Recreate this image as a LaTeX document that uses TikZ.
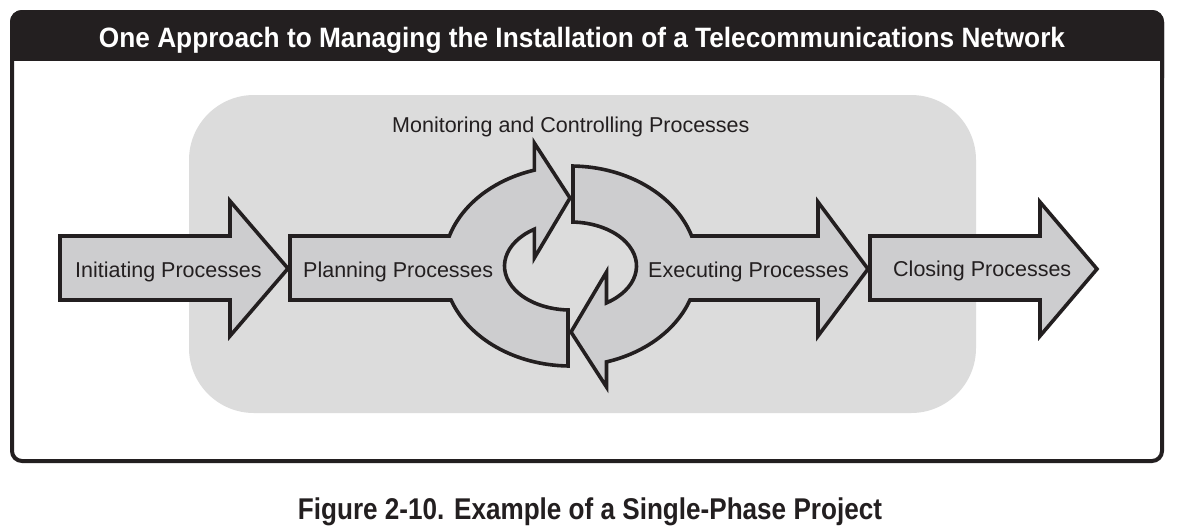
\documentclass[tikz,border=0pt]{standalone}
\usepackage{fontspec}
\setmainfont{Liberation Sans}
\usepackage{graphicx}
\usetikzlibrary{calc}
\definecolor{ink}{HTML}{231F20}
\definecolor{panel}{HTML}{DCDCDC}
\definecolor{arrowfill}{HTML}{CDCDCF}
\begin{document}
\begin{tikzpicture}[x=1pt,y=1pt,
  proc/.style={draw=ink, fill=arrowfill, line width=3.6pt, line join=miter, miter limit=10},
  lbl/.style={font=\fontsize{21.5}{24}\selectfont, text=ink, inner sep=0pt, anchor=base west},
  titletext/.style={font=\fontsize{28}{32}\selectfont\bfseries, text=white, inner sep=0pt, anchor=base},
  captiontext/.style={font=\fontsize{30}{34}\selectfont\bfseries, text=ink, inner sep=0pt, anchor=base}
]
\useasboundingbox (0,0) rectangle (1181,-531);
\fill[white] (0,0) rectangle (1181,-531);

% frame and title bar
\fill[ink, rounded corners=12] (10,-10) rectangle (1164,-90);
\fill[white] (13,-61) rectangle (1161,-100);
\draw[ink, line width=4, rounded corners=10] (12,-12) rectangle (1162,-461);
\node[titletext] (title) at (582,-47) {\resizebox{966pt}{\height}{One Approach to Managing the Installation of a Telecommunications Network}};

% grey panel
\fill[panel, rounded corners=65] (189,-95) rectangle (976,-413);

% common centre of the cycle
\coordinate (C) at (570.5,-266);
\pgfmathsetmacro\pA{180-asin(30/100)}
\pgfmathsetmacro\pB{acos((534.3-570.5)/127)}
\pgfmathsetmacro\pC{acos((534.3-570.5)/66)}
\pgfmathsetmacro\pD{360-acos((568-570.5)/66)}
\pgfmathsetmacro\pE{360-acos((568-570.5)/127)}
\pgfmathsetmacro\pF{180+asin(34/100)}
\pgfmathsetmacro\eA{acos((573-570.5)/127)}
\pgfmathsetmacro\eB{asin(30/100)}
\pgfmathsetmacro\eC{-asin(34/100)}
\pgfmathsetmacro\eD{-acos((606.5-570.5)/127)}
\pgfmathsetmacro\eE{-acos((606.5-570.5)/66)}
\pgfmathsetmacro\eF{acos((573-570.5)/66)}

% Initiating
\filldraw[proc] (60,-236) -- (230,-236) -- (230,-201) -- (288,-268.5) -- (230,-336) -- (230,-300) -- (60,-300) -- cycle;

% Planning
\filldraw[proc] (290,-236) -- ($(C)+(\pA:127 and 100)$)
  arc[start angle=\pA, end angle=\pB, x radius=127, y radius=100]
  -- (534.3,-143) -- (570,-198) -- (534.3,-258)
  -- ($(C)+(\pC:66 and 44)$)
  arc[start angle=\pC, end angle=\pD, x radius=66, y radius=44]
  -- ($(C)+(\pE:127 and 100)$)
  arc[start angle=\pE, end angle=\pF, x radius=127, y radius=100]
  -- (290,-300) -- cycle;

% Executing
\filldraw[proc] ($(C)+(\eA:127 and 100)$)
  arc[start angle=\eA, end angle=\eB, x radius=127, y radius=100]
  -- (818,-236) -- (818,-202) -- (868,-269) -- (818,-336) -- (818,-300)
  -- ($(C)+(\eC:127 and 100)$)
  arc[start angle=\eC, end angle=\eD, x radius=127, y radius=100]
  -- (606.5,-387) -- (571,-332) -- (606.5,-272)
  -- ($(C)+(\eE:66 and 44)$)
  arc[start angle=\eE, end angle=\eF, x radius=66, y radius=44]
  -- cycle;

% Closing
\filldraw[proc] (870,-236) -- (1040,-236) -- (1040,-202) -- (1097,-269) -- (1040,-336) -- (1040,-300) -- (870,-300) -- cycle;

% labels
\node[lbl] (init) at (75,-277) {Initiating Processes};
\node[lbl] (plan) at (303,-277) {Planning Processes};
\node[lbl] (exec) at (648,-277) {Executing Processes};
\node[lbl] (close) at (893,-276) {Closing Processes};
\node[lbl] (mon) at (392,-132) {Monitoring and Controlling Processes};

% caption
\node[captiontext] (caption) at (590,-519) {\resizebox{584pt}{\height}{Figure 2-10. Example of a Single-Phase Project}};
\end{tikzpicture}
\end{document}
